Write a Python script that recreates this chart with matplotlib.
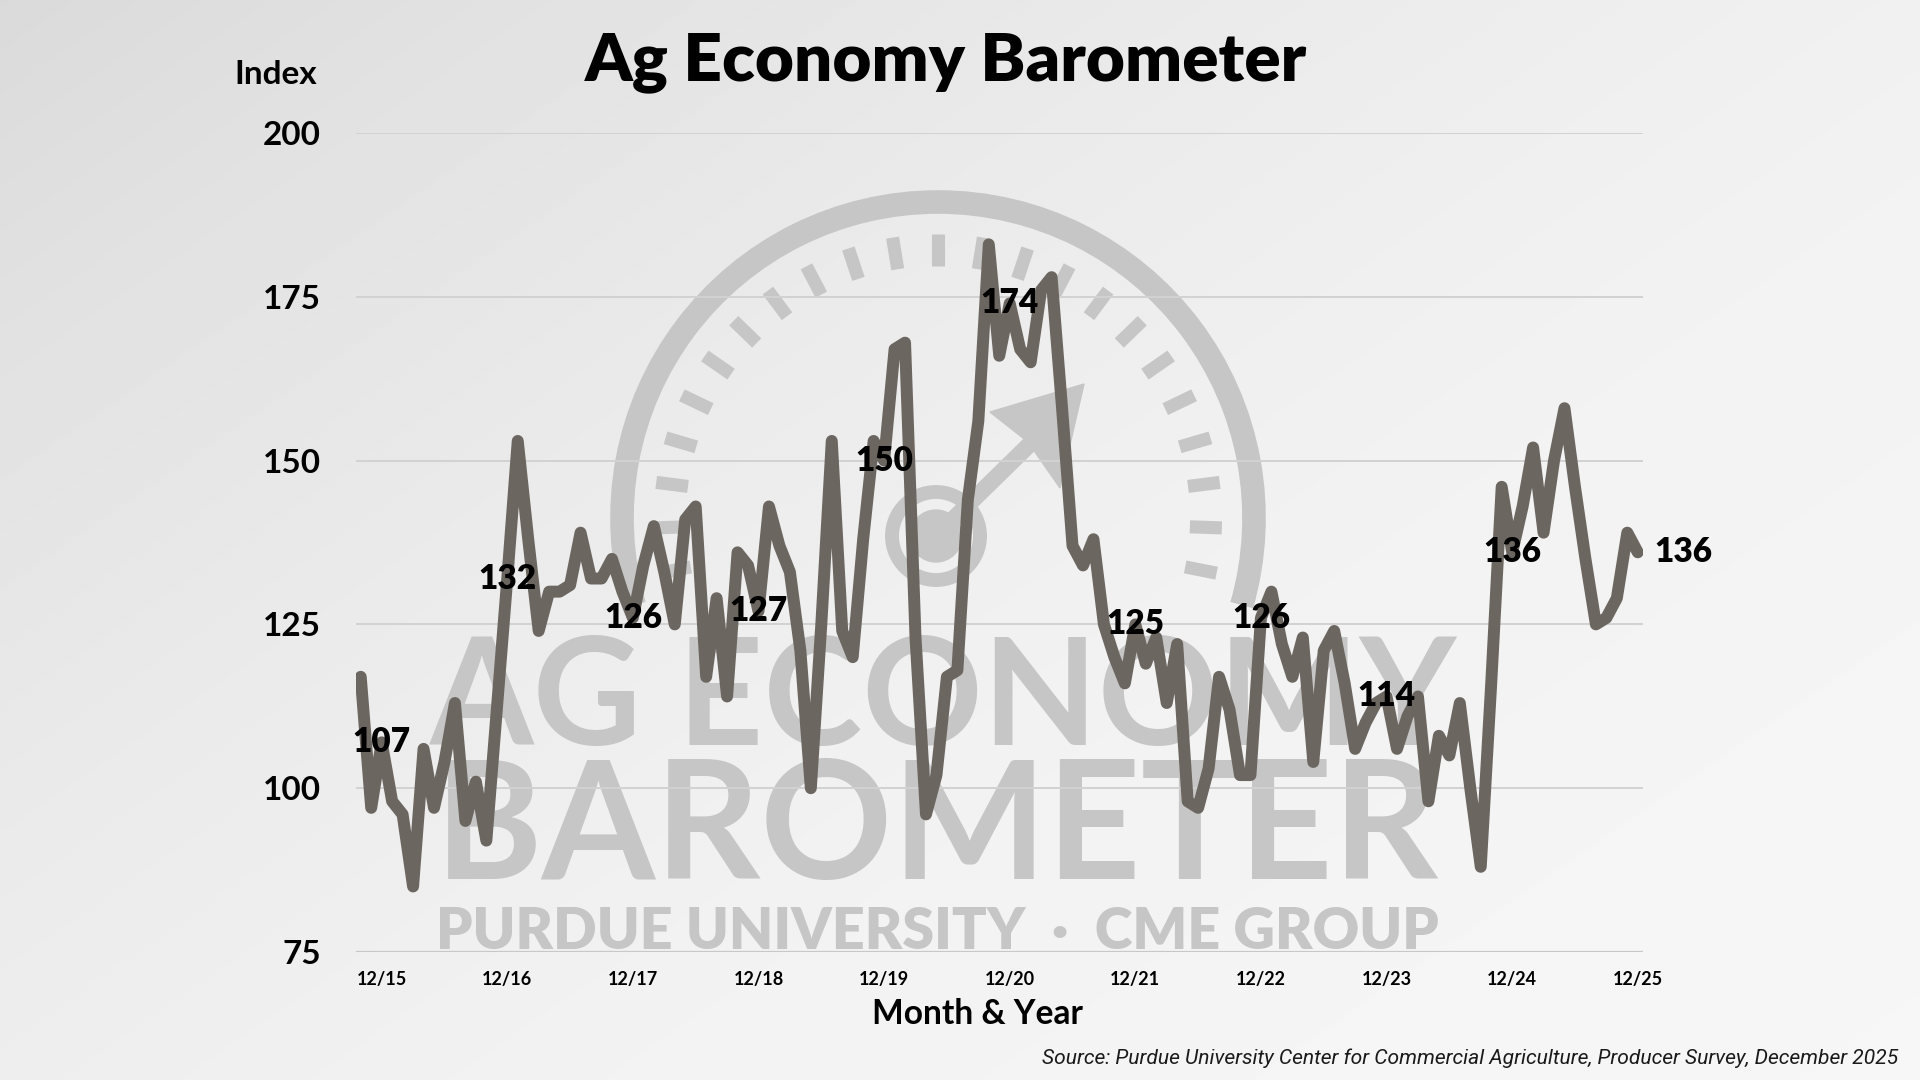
import numpy as np
import pandas as pd
import matplotlib
matplotlib.use("Agg")
import matplotlib.pyplot as plt
from matplotlib.patches import Arc, Circle, Polygon

# monthly index, Oct 2015 .. Dec 2025
months = pd.period_range("2015-10", "2025-12", freq="M")
values = [117, 97, 107, 98, 96, 85, 106, 97, 104, 113, 95, 101, 92, 112, 132,
          153, 138, 124, 130, 130, 131, 139, 132, 132, 135, 130, 126,
          134, 140, 133, 125, 141, 143, 117, 129, 114, 136, 134, 127,
          143, 137, 133, 121, 100, 125, 153, 124, 120, 138, 153, 150,
          167, 168, 123, 96, 102, 117, 118, 144, 156, 183, 166, 174,
          167, 165, 176, 178, 158, 137, 134, 138, 125, 120, 116, 125,
          119, 123, 113, 122, 98, 97, 103, 117, 112, 102, 102, 126,
          130, 122, 117, 123, 104, 121, 124, 116, 106, 110, 113, 114,
          106, 111, 114, 98, 108, 105, 113, 100, 88, 116, 146, 136,
          143, 152, 139, 150, 158, 146, 135, 125, 126, 129, 139, 136]
tick_labels = ["12/15", "12/16", "12/17", "12/18", "12/19", "12/20",
               "12/21", "12/22", "12/23", "12/24", "12/25"]
y_ticks = [75, 100, 125, 150, 175, 200]

x = np.arange(len(months))
dec_idx = [i for i, m in enumerate(months) if m.month == 12]

W, H = 1920, 1080
plt.rcParams["font.family"] = ["Lato", "DejaVu Sans"]
fig = plt.figure(figsize=(19.2, 10.8), dpi=100)
renderer = fig.canvas.get_renderer()


def fit_width(t, target):
    w = t.get_window_extent(renderer).width
    t.set_fontsize(t.get_fontsize() * target / w)


# background + watermark logo (pixel coords, y up)
bg = fig.add_axes([0, 0, 1, 1])
bg.set_xlim(0, W)
bg.set_ylim(0, H)
bg.axis("off")
ys, xs = np.mgrid[0:H:2, 0:W:2]
t = np.clip(0.55 * xs / W + 0.45 * ys / H, 0, 1)
shade = 0.965 - 0.11 * (1 - t) ** 2
bg.imshow(shade, cmap="gray", vmin=0, vmax=1, extent=[0, W, 0, H],
          origin="upper", aspect="auto", interpolation="bilinear", zorder=0)

wm = "#c6c6c6"
cx, cy = 938, 562
bg.add_patch(Arc((cx, cy), 632, 632, theta1=-16, theta2=196, lw=17, color=wm))
for k in range(-11, 12):
    a = np.radians(90 + 9.2 * k)
    bg.plot([cx + 252 * np.cos(a), cx + 284 * np.cos(a)],
            [cy + 252 * np.sin(a), cy + 284 * np.sin(a)],
            lw=9.4, color=wm, solid_capstyle="butt")
hx, hy = 936, 544
bg.add_patch(Circle((hx, hy), 26, color=wm))
bg.add_patch(Circle((hx, hy), 44, fill=False, lw=10, ec=wm))
bg.plot([hx, 1030], [hy, 636], lw=12, color=wm, solid_capstyle="butt")
bg.add_patch(Polygon([(1084, 696), (990, 668), (1028, 638), (1060, 592)], color=wm))

for txt, xc, yb, w, wt in [("AG ECONOMY", 943, 335, 1028, "bold"),
                           ("BAROMETER", 937, 201, 1004, "bold"),
                           ("PURDUE UNIVERSITY  ·  CME GROUP", 937, 131, 1004, "heavy")]:
    tt = bg.text(xc, yb, txt, ha="center", va="baseline", color=wm,
                 fontweight=wt, fontsize=100)
    fit_width(tt, w)

# chart
left, right, top, bottom = 355.5, 1643, 133, 952
ax = fig.add_axes([left / W, 1 - bottom / H, (right - left) / W, (bottom - top) / H])
ax.set_facecolor("none")
ax.set_xlim(-0.5, len(months) - 0.5)
ax.set_ylim(75, 200)
for v in y_ticks[1:]:
    ax.axhline(v, color="#d2d2d2", lw=1.4, zorder=1)
ax.axhline(75, color="#c8c8c8", lw=1.6, zorder=1)

ax.plot(x, values, color="#6c6661", lw=8.6, solid_joinstyle="round",
        solid_capstyle="round", zorder=3)

for i in dec_idx[:-1]:
    ax.text(i, values[i], str(values[i]), ha="center", va="center",
            fontsize=24, fontweight="heavy", color="black", zorder=4)
ax.annotate(str(values[-1]), (x[-1], values[-1]), xytext=(12, 0),
            textcoords="offset points", ha="left", va="center",
            fontsize=24, fontweight="heavy", color="black", zorder=4)

for s in ax.spines.values():
    s.set_visible(False)
ax.set_yticks(y_ticks)
ax.set_yticklabels([str(v) for v in y_ticks], fontsize=24, fontweight="bold")
ax.set_xticks(dec_idx)
ax.set_xticklabels(tick_labels, fontsize=13, fontweight="bold")
ax.tick_params(axis="y", length=0, pad=25)
ax.tick_params(axis="x", length=0, pad=14)

title = fig.text(946 / W, 1 - 80 / H, "Ag Economy Barometer", ha="center",
                 va="baseline", fontweight="heavy", fontsize=50)
fit_width(title, 722)
fig.text(317 / W, 1 - 75 / H, "Index", ha="right", va="center",
         fontsize=24, fontweight="bold")
xl = fig.text(978 / W, 1 - 1014 / H, "Month & Year", ha="center", va="center",
              fontsize=24, fontweight="bold")
fit_width(xl, 211)
src = fig.text(1898 / W, 1 - 1058 / H,
               "Source: Purdue University Center for Commercial Agriculture, "
               "Producer Survey, December 2025",
               ha="right", va="center", style="italic", color="#1a1a1a",
               family=["Liberation Sans Narrow", "Roboto"], fontsize=20)
fit_width(src, 856)

fig.savefig("out.png", dpi=100)
